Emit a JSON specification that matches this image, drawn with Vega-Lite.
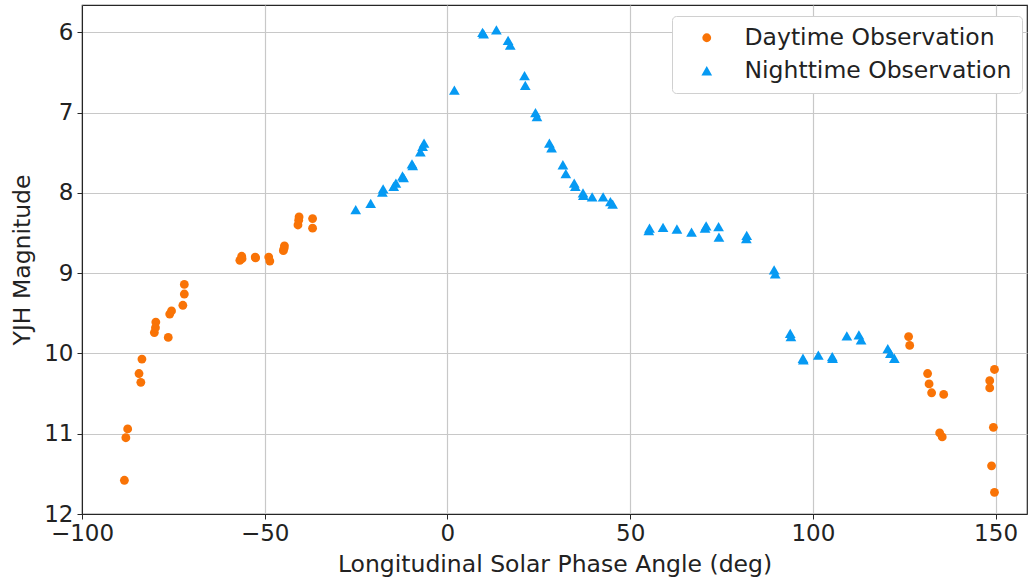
{
  "$schema": "https://vega.github.io/schema/vega-lite/v6.json",
  "autosize": "none",
  "padding": {"left": 82, "top": 5, "right": 1, "bottom": 66},
  "width": 945,
  "height": 509,
  "background": "white",
  "config": {
    "font": "DejaVu Sans",
    "view": {"stroke": "#262626", "strokeWidth": 1.2},
    "axis": {
      "labelFont": "DejaVu Sans",
      "titleFont": "DejaVu Sans",
      "labelFontSize": 23,
      "titleFontSize": 23.5,
      "titleFontWeight": "normal",
      "labelColor": "#222222",
      "titleColor": "#222222",
      "gridColor": "#c8c8c8",
      "gridWidth": 1.2,
      "domainColor": "#262626",
      "tickColor": "#262626",
      "tickSize": 5,
      "labelPadding": 3,
      "labelFlush": false
    },
    "legend": {
      "labelFont": "DejaVu Sans",
      "labelFontSize": 23.5,
      "labelColor": "#222222"
    }
  },
  "data": {
    "values": [
      {"x": -88.4, "y": 11.58, "t": "Daytime Observation"},
      {"x": -87.5, "y": 10.94, "t": "Daytime Observation"},
      {"x": -88.0, "y": 11.05, "t": "Daytime Observation"},
      {"x": -83.6, "y": 10.07, "t": "Daytime Observation"},
      {"x": -84.4, "y": 10.25, "t": "Daytime Observation"},
      {"x": -83.9, "y": 10.36, "t": "Daytime Observation"},
      {"x": -80.2, "y": 9.74, "t": "Daytime Observation"},
      {"x": -79.8, "y": 9.61, "t": "Daytime Observation"},
      {"x": -79.9, "y": 9.68, "t": "Daytime Observation"},
      {"x": -76.4, "y": 9.80, "t": "Daytime Observation"},
      {"x": -76.0, "y": 9.51, "t": "Daytime Observation"},
      {"x": -75.5, "y": 9.47, "t": "Daytime Observation"},
      {"x": -72.4, "y": 9.40, "t": "Daytime Observation"},
      {"x": -72.0, "y": 9.26, "t": "Daytime Observation"},
      {"x": -72.0, "y": 9.14, "t": "Daytime Observation"},
      {"x": -56.8, "y": 8.84, "t": "Daytime Observation"},
      {"x": -56.3, "y": 8.79, "t": "Daytime Observation"},
      {"x": -56.2, "y": 8.82, "t": "Daytime Observation"},
      {"x": -52.6, "y": 8.80, "t": "Daytime Observation"},
      {"x": -52.5, "y": 8.81, "t": "Daytime Observation"},
      {"x": -48.9, "y": 8.80, "t": "Daytime Observation"},
      {"x": -48.6, "y": 8.85, "t": "Daytime Observation"},
      {"x": -44.9, "y": 8.72, "t": "Daytime Observation"},
      {"x": -44.6, "y": 8.66, "t": "Daytime Observation"},
      {"x": -44.7, "y": 8.69, "t": "Daytime Observation"},
      {"x": -40.9, "y": 8.40, "t": "Daytime Observation"},
      {"x": -40.6, "y": 8.30, "t": "Daytime Observation"},
      {"x": -40.7, "y": 8.34, "t": "Daytime Observation"},
      {"x": -36.9, "y": 8.32, "t": "Daytime Observation"},
      {"x": -36.9, "y": 8.44, "t": "Daytime Observation"},
      {"x": 126.2, "y": 9.79, "t": "Daytime Observation"},
      {"x": 126.5, "y": 9.90, "t": "Daytime Observation"},
      {"x": 131.4, "y": 10.25, "t": "Daytime Observation"},
      {"x": 131.8, "y": 10.38, "t": "Daytime Observation"},
      {"x": 132.5, "y": 10.49, "t": "Daytime Observation"},
      {"x": 135.8, "y": 10.51, "t": "Daytime Observation"},
      {"x": 134.7, "y": 10.99, "t": "Daytime Observation"},
      {"x": 135.4, "y": 11.04, "t": "Daytime Observation"},
      {"x": 149.7, "y": 10.20, "t": "Daytime Observation"},
      {"x": 148.4, "y": 10.34, "t": "Daytime Observation"},
      {"x": 148.4, "y": 10.43, "t": "Daytime Observation"},
      {"x": 149.4, "y": 10.92, "t": "Daytime Observation"},
      {"x": 148.9, "y": 11.40, "t": "Daytime Observation"},
      {"x": 149.7, "y": 11.73, "t": "Daytime Observation"},
      {"x": -25.1, "y": 8.21, "t": "Nighttime Observation"},
      {"x": -21.0, "y": 8.13, "t": "Nighttime Observation"},
      {"x": -17.8, "y": 7.99, "t": "Nighttime Observation"},
      {"x": -17.6, "y": 7.95, "t": "Nighttime Observation"},
      {"x": -14.7, "y": 7.92, "t": "Nighttime Observation"},
      {"x": -14.1, "y": 7.88, "t": "Nighttime Observation"},
      {"x": -12.3, "y": 7.79, "t": "Nighttime Observation"},
      {"x": -12.0, "y": 7.81, "t": "Nighttime Observation"},
      {"x": -9.7, "y": 7.64, "t": "Nighttime Observation"},
      {"x": -9.5, "y": 7.66, "t": "Nighttime Observation"},
      {"x": -7.4, "y": 7.49, "t": "Nighttime Observation"},
      {"x": -6.8, "y": 7.42, "t": "Nighttime Observation"},
      {"x": -6.4, "y": 7.38, "t": "Nighttime Observation"},
      {"x": 1.9, "y": 6.72, "t": "Nighttime Observation"},
      {"x": 9.6, "y": 6.00, "t": "Nighttime Observation"},
      {"x": 9.9, "y": 6.02, "t": "Nighttime Observation"},
      {"x": 13.4, "y": 5.97, "t": "Nighttime Observation"},
      {"x": 16.6, "y": 6.10, "t": "Nighttime Observation"},
      {"x": 17.2, "y": 6.16, "t": "Nighttime Observation"},
      {"x": 21.1, "y": 6.54, "t": "Nighttime Observation"},
      {"x": 21.3, "y": 6.66, "t": "Nighttime Observation"},
      {"x": 24.1, "y": 7.00, "t": "Nighttime Observation"},
      {"x": 24.5, "y": 7.05, "t": "Nighttime Observation"},
      {"x": 27.9, "y": 7.38, "t": "Nighttime Observation"},
      {"x": 28.5, "y": 7.44, "t": "Nighttime Observation"},
      {"x": 31.6, "y": 7.65, "t": "Nighttime Observation"},
      {"x": 32.4, "y": 7.76, "t": "Nighttime Observation"},
      {"x": 34.7, "y": 7.88, "t": "Nighttime Observation"},
      {"x": 35.0, "y": 7.92, "t": "Nighttime Observation"},
      {"x": 37.1, "y": 8.00, "t": "Nighttime Observation"},
      {"x": 37.2, "y": 8.03, "t": "Nighttime Observation"},
      {"x": 39.6, "y": 8.05, "t": "Nighttime Observation"},
      {"x": 42.6, "y": 8.05, "t": "Nighttime Observation"},
      {"x": 44.6, "y": 8.11, "t": "Nighttime Observation"},
      {"x": 45.2, "y": 8.14, "t": "Nighttime Observation"},
      {"x": 55.1, "y": 8.47, "t": "Nighttime Observation"},
      {"x": 55.3, "y": 8.44, "t": "Nighttime Observation"},
      {"x": 59.0, "y": 8.43, "t": "Nighttime Observation"},
      {"x": 62.8, "y": 8.45, "t": "Nighttime Observation"},
      {"x": 66.8, "y": 8.49, "t": "Nighttime Observation"},
      {"x": 70.5, "y": 8.44, "t": "Nighttime Observation"},
      {"x": 70.8, "y": 8.41, "t": "Nighttime Observation"},
      {"x": 74.2, "y": 8.42, "t": "Nighttime Observation"},
      {"x": 74.3, "y": 8.55, "t": "Nighttime Observation"},
      {"x": 81.8, "y": 8.57, "t": "Nighttime Observation"},
      {"x": 81.9, "y": 8.53, "t": "Nighttime Observation"},
      {"x": 89.4, "y": 8.96, "t": "Nighttime Observation"},
      {"x": 89.7, "y": 9.01, "t": "Nighttime Observation"},
      {"x": 93.8, "y": 9.75, "t": "Nighttime Observation"},
      {"x": 94.0, "y": 9.79, "t": "Nighttime Observation"},
      {"x": 97.3, "y": 10.06, "t": "Nighttime Observation"},
      {"x": 97.4, "y": 10.08, "t": "Nighttime Observation"},
      {"x": 101.5, "y": 10.02, "t": "Nighttime Observation"},
      {"x": 105.3, "y": 10.04, "t": "Nighttime Observation"},
      {"x": 105.4, "y": 10.06, "t": "Nighttime Observation"},
      {"x": 109.3, "y": 9.78, "t": "Nighttime Observation"},
      {"x": 112.6, "y": 9.77, "t": "Nighttime Observation"},
      {"x": 113.2, "y": 9.83, "t": "Nighttime Observation"},
      {"x": 120.5, "y": 9.94, "t": "Nighttime Observation"},
      {"x": 121.2, "y": 10.00, "t": "Nighttime Observation"},
      {"x": 122.3, "y": 10.06, "t": "Nighttime Observation"}
    ]
  },
  "mark": {"type": "point", "filled": true, "opacity": 1},
  "encoding": {
    "x": {
      "field": "x",
      "type": "quantitative",
      "title": "Longitudinal Solar Phase Angle (deg)",
      "scale": {"domain": [-100, 158.6], "nice": false, "zero": false},
      "axis": {"values": [-100, -50, 0, 50, 100, 150], "titlePadding": 7}
    },
    "y": {
      "field": "y",
      "type": "quantitative",
      "title": "YJH Magnitude",
      "scale": {"domain": [5.66, 12], "nice": false, "zero": false, "reverse": true},
      "axis": {"values": [6, 7, 8, 9, 10, 11, 12], "titlePadding": 9, "labelPadding": 4}
    },
    "color": {
      "field": "t",
      "type": "nominal",
      "scale": {"domain": ["Daytime Observation", "Nighttime Observation"], "range": ["#f97306", "#069af3"]},
      "legend": {
        "title": null,
        "orient": "none",
        "legendX": 590,
        "legendY": 11,
        "padding": 10,
        "fillColor": "white",
        "strokeColor": "#d0d0d0",
        "cornerRadius": 4,
        "symbolOffset": 13,
        "symbolSize": 90,
        "labelOffset": 26,
        "rowPadding": 8,
        "labelLimit": 400
      }
    },
    "shape": {
      "field": "t",
      "type": "nominal",
      "scale": {"domain": ["Daytime Observation", "Nighttime Observation"], "range": ["circle", "triangle-up"]},
      "legend": null
    },
    "size": {
      "field": "t",
      "type": "ordinal",
      "scale": {"domain": ["Daytime Observation", "Nighttime Observation"], "range": [78, 115]},
      "legend": null
    }
  }
}
